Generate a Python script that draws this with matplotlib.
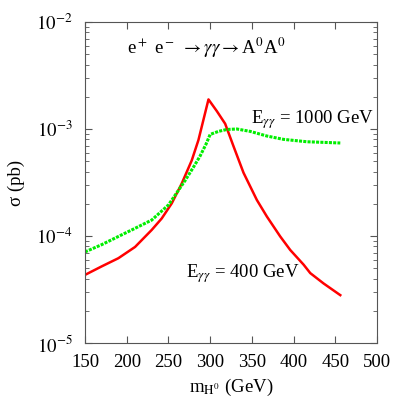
import matplotlib
matplotlib.use("Agg")
import matplotlib.pyplot as plt
from matplotlib.ticker import LogLocator, MultipleLocator, NullFormatter

plt.rcParams['font.family'] = ['Liberation Serif', 'DejaVu Serif']
plt.rcParams['mathtext.fontset'] = 'stix'

# E_gg = 400 GeV (red)
m_red = [150, 170, 190, 210, 230, 242, 254, 266, 278, 286, 298, 308, 318, 328, 340, 356, 368, 384, 396, 412, 420, 436, 456]
s_red = [4.33e-5, 5.2e-5, 6.2e-5, 7.9e-5, 1.14e-4, 1.46e-4, 2.02e-4, 3.1e-4, 5.1e-4, 7.9e-4, 1.89e-3, 1.47e-3, 1.12e-3, 6.9e-4, 3.9e-4, 2.17e-4, 1.52e-4, 9.9e-5, 7.4e-5, 5.4e-5, 4.5e-5, 3.6e-5, 2.8e-5]

# E_gg = 1000 GeV (green)
m_grn = [150, 170, 190, 210, 230, 250, 270, 280, 288, 295, 300, 310, 320, 332, 348, 368, 388, 416, 456]
s_grn = [7.1e-5, 8.3e-5, 9.9e-5, 1.18e-4, 1.41e-4, 1.95e-4, 3.3e-4, 4.4e-4, 5.6e-4, 7.2e-4, 8.9e-4, 9.5e-4, 9.9e-4, 1.0e-3, 9.5e-4, 8.6e-4, 8.0e-4, 7.6e-4, 7.4e-4]

fig = plt.figure(figsize=(4.09, 4.19), dpi=100)
ax = fig.add_axes([85/409, 1 - 343/419, (377 - 85)/409, (343 - 22)/419])

ax.plot(m_red, s_red, color='#ff0000', lw=1.8)
ax.plot(m_grn, s_grn, color='#00ee00', lw=2.2, linestyle=(0, (1, 0.4)))

ax.set_yscale('log')
ax.set_xlim(150, 500)
ax.set_ylim(1e-5, 1e-2)
ax.xaxis.set_major_locator(MultipleLocator(50))
ax.yaxis.set_minor_locator(LogLocator(base=10, subs=range(2, 10), numticks=20))
ax.yaxis.set_minor_formatter(NullFormatter())
ax.set_yticks([1e-5, 1e-4, 1e-3, 1e-2])
ax.set_yticklabels([r'$10^{-5}$', r'$10^{-4}$', r'$10^{-3}$', r'$10^{-2}$'])
ax.tick_params(which='both', direction='in', top=True, right=True, labelsize=13.5, color='#555555')
ax.tick_params(which='major', length=5)
ax.tick_params(which='minor', length=3)
ax.tick_params(axis='x', which='major', pad=8)
ax.tick_params(axis='y', which='major', pad=9)
for sp in ax.spines.values():
    sp.set_color('#555555')

ax.set_xlabel(r'm$_{\mathrm{H}^0}$ (GeV)', fontsize=13.5, labelpad=4)
ax.set_ylabel('σ (pb)', fontsize=13.5, labelpad=8)

ax.text(0.145, 0.92, r'e$^+$ e$^-$ $\rightarrow\gamma\gamma\rightarrow$A$^0$A$^0$', transform=ax.transAxes, fontsize=13.5, va='center')
ax.text(0.57, 0.695, r'E$_{\gamma\gamma}$ = 1000 GeV', transform=ax.transAxes, fontsize=13.5, va='center')
ax.text(0.345, 0.215, r'E$_{\gamma\gamma}$ = 400 GeV', transform=ax.transAxes, fontsize=13.5, va='center')

fig.savefig('out.png', dpi=100)
